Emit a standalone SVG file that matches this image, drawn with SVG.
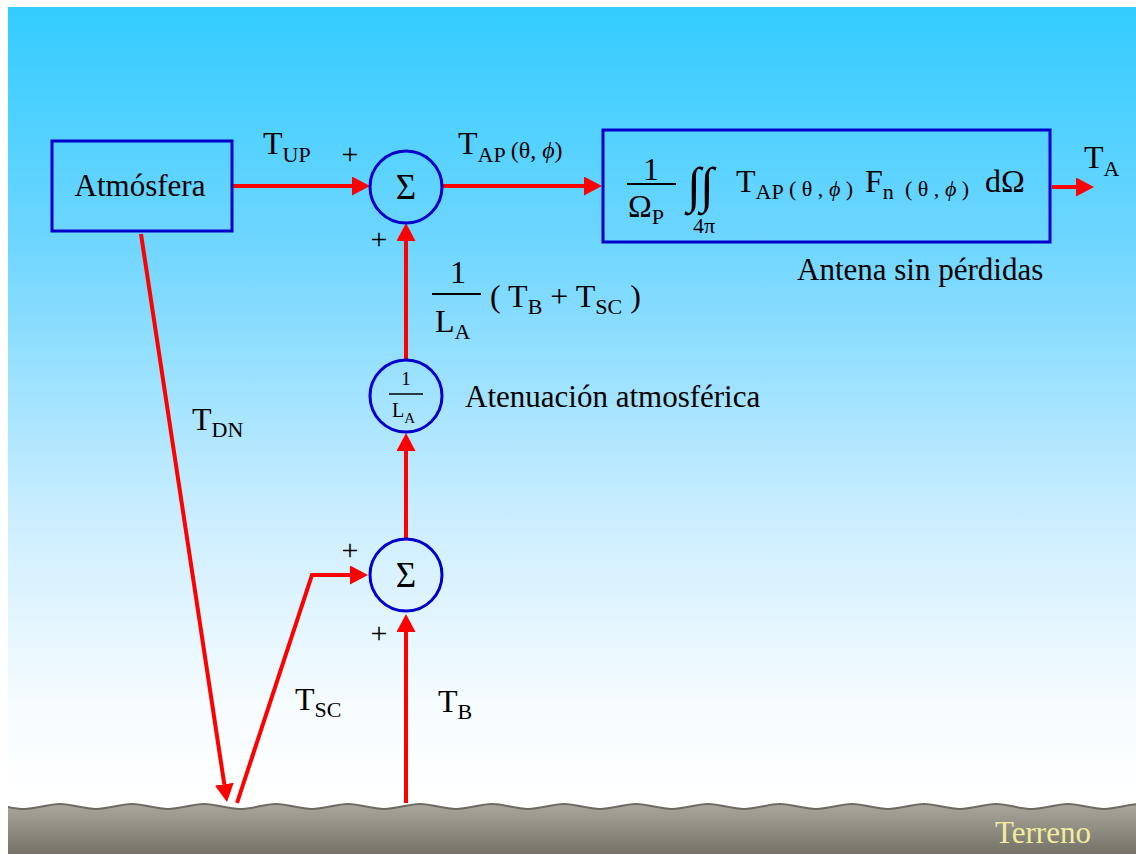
<svg xmlns="http://www.w3.org/2000/svg" width="1136" height="854" viewBox="0 0 1136 854">
<defs>
<linearGradient id="sky" x1="0" y1="7" x2="0" y2="800" gradientUnits="userSpaceOnUse">
<stop offset="0" stop-color="#33CCFF"/>
<stop offset="0.3" stop-color="#6FD6FF"/>
<stop offset="0.65" stop-color="#CDEEFF"/>
<stop offset="0.88" stop-color="#F6FCFF"/>
<stop offset="1" stop-color="#FFFFFF"/>
</linearGradient>
<linearGradient id="ground" x1="0" y1="804" x2="0" y2="854" gradientUnits="userSpaceOnUse">
<stop offset="0" stop-color="#ABA79D"/>
<stop offset="1" stop-color="#747266"/>
</linearGradient>
<clipPath id="clipG"><rect x="8" y="780" width="1128" height="74"/></clipPath>
<marker id="ah" markerUnits="userSpaceOnUse" markerWidth="19" markerHeight="20" refX="0" refY="9.5" orient="auto" viewBox="0 0 19 20">
<path d="M0,0 L18,9.5 L0,19 Z" fill="#FF0000"/>
</marker>
</defs>
<style>
.t { font-family: "Liberation Serif", "Times New Roman", "DejaVu Serif", serif; fill: #000000; }
.big { font-size: 32px; }
.sub { font-size: 22px; }
.lbl { font-size: 31px; }
.pl { font-size: 30px; }
.phi { font-style: italic; }
.box { fill: none; stroke: #0000CC; stroke-width: 3; }
.wire { fill: none; stroke: #FF0000; stroke-width: 4; }
.bar { stroke: #000000; stroke-width: 2; }
</style>

<g id="background">
<rect x="8" y="7" width="1128" height="847" fill="url(#sky)"/>
<g clip-path="url(#clipG)">
<path d="M-12,804 C0,804 12,809 24,809 S48,804 60,804 S84,809 96,809 S120,804 132,804 S156,809 168,809 S192,804 204,804 S228,809 240,809 S264,804 276,804 S300,809 312,809 S336,804 348,804 S372,809 384,809 S408,804 420,804 S444,809 456,809 S480,804 492,804 S516,809 528,809 S552,804 564,804 S588,809 600,809 S624,804 636,804 S660,809 672,809 S696,804 708,804 S732,809 744,809 S768,804 780,804 S804,809 816,809 S840,804 852,804 S876,809 888,809 S912,804 924,804 S948,809 960,809 S984,804 996,804 S1020,809 1032,809 S1056,804 1068,804 S1092,809 1104,809 S1128,804 1140,804 L1140,860 L-12,860 Z" fill="url(#ground)" stroke="#6E6A62" stroke-width="2"/>
</g>
<text x="995" y="843" class="t lbl" style="fill:#F0EE9E">Terreno</text>
</g>

<g id="connectors">
<path class="wire" d="M233,186 L352,186" marker-end="url(#ah)"/>
<path class="wire" d="M443,186 L584,186" marker-end="url(#ah)"/>
<path class="wire" d="M1052,187 L1076,187" marker-end="url(#ah)"/>
<path class="wire" d="M406,359 L406,241" marker-end="url(#ah)"/>
<path class="wire" d="M406,539 L406,451" marker-end="url(#ah)"/>
<path class="wire" d="M406,803 L406,632" marker-end="url(#ah)"/>
<path class="wire" d="M237,803 L312,575 L350,575" marker-end="url(#ah)"/>
<path class="wire" d="M141,234 L224.3,784.2" marker-end="url(#ah)"/>
</g>

<g id="atmosfera">
<rect class="box" x="52" y="141" width="180" height="90"/>
<text x="140" y="196" class="t lbl" text-anchor="middle">Atmósfera</text>
</g>

<g id="sum1">
<circle class="box" cx="406" cy="187" r="36"/>
<text x="406" y="199" class="t" font-size="35" text-anchor="middle">Σ</text>
</g>

<g id="antena">
<rect class="box" x="603" y="130" width="447" height="112"/>
<text x="651" y="180" class="t big" text-anchor="middle">1</text>
<line class="bar" x1="627" y1="184" x2="676" y2="184"/>
<text x="628" y="217" class="t big">Ω<tspan class="sub" dy="7">P</tspan></text>
<text x="687" y="202" class="t" font-size="50">∫</text>
<text x="700" y="202" class="t" font-size="50">∫</text>
<text x="693" y="233" class="t sub">4π</text>
<text x="736" y="192" class="t big">T<tspan class="sub" dy="7">AP</tspan></text>
<text x="789" y="196" class="t sub">( θ , <tspan class="phi">ϕ</tspan> )</text>
<text x="865" y="192" class="t big">F<tspan class="sub" dy="7">n</tspan></text>
<text x="905" y="196" class="t sub">( θ , <tspan class="phi">ϕ</tspan> )</text>
<text x="985" y="192" class="t big">dΩ</text>
</g>

<g id="atenuacion">
<circle class="box" cx="406" cy="396" r="36"/>
<text x="406" y="385" class="t" font-size="19" text-anchor="middle">1</text>
<line x1="389" y1="394" x2="423" y2="394" stroke="#000" stroke-width="1.5"/>
<text x="392" y="417" class="t" font-size="20">L<tspan font-size="15" dy="6">A</tspan></text>
</g>

<g id="sum2">
<circle class="box" cx="406" cy="575" r="36"/>
<text x="406" y="587" class="t" font-size="35" text-anchor="middle">Σ</text>
</g>

<g id="labels">
<text x="263" y="154" class="t big">T<tspan class="sub" dy="8">UP</tspan></text>
<text x="458" y="154" class="t big">T<tspan class="sub" dy="8">AP</tspan><tspan font-size="24" dx="5" dy="-4">(θ, <tspan class="phi">ϕ</tspan>)</tspan></text>
<text x="1084" y="168" class="t big">T<tspan class="sub" dy="8">A</tspan></text>
<text x="797" y="280" class="t lbl">Antena sin pérdidas</text>
<text x="465" y="407" class="t lbl">Atenuación atmosférica</text>
<text x="350" y="164" class="t pl" text-anchor="middle">+</text>
<text x="379" y="249" class="t pl" text-anchor="middle">+</text>
<text x="350" y="560" class="t pl" text-anchor="middle">+</text>
<text x="379" y="643" class="t pl" text-anchor="middle">+</text>
<text x="458" y="283" class="t big" text-anchor="middle">1</text>
<line class="bar" x1="432" y1="294" x2="481" y2="294"/>
<text x="435" y="332" class="t big">L<tspan class="sub" dy="7">A</tspan></text>
<text x="490" y="307" class="t big">( T<tspan class="sub" dy="7">B</tspan><tspan dy="-7"> + T</tspan><tspan class="sub" dy="7">SC</tspan><tspan dy="-7"> )</tspan></text>
<text x="192" y="430" class="t big">T<tspan class="sub" dy="7">DN</tspan></text>
<text x="295" y="710" class="t big">T<tspan class="sub" dy="7">SC</tspan></text>
<text x="438" y="712" class="t big">T<tspan class="sub" dy="7">B</tspan></text>
</g>
</svg>
